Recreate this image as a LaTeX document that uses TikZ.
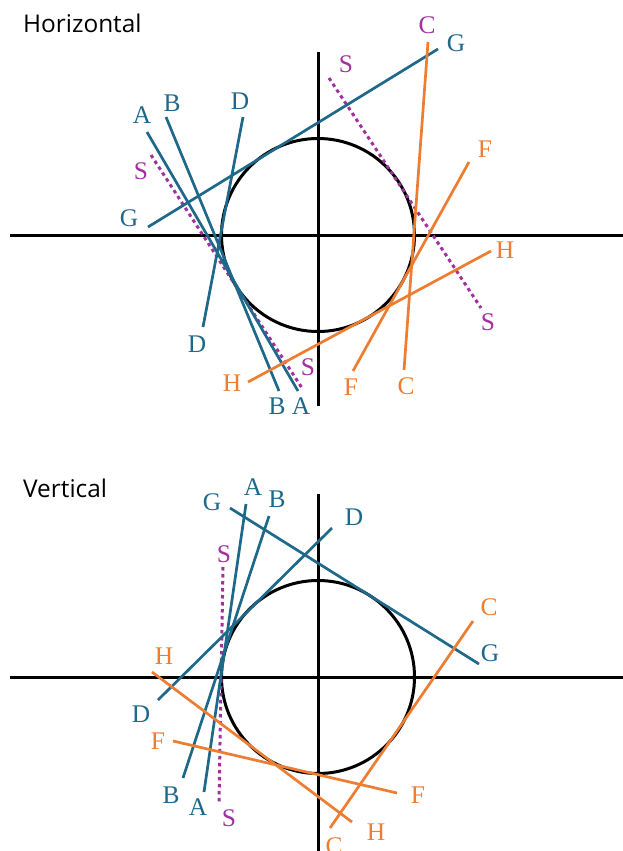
\documentclass[tikz,border=0pt]{standalone}
\usepackage{fontspec}
\setmainfont{Liberation Serif}
\newfontfamily\titlefont{Open Sans}
\definecolor{lblue}{RGB}{30,104,138}
\definecolor{lorange}{RGB}{237,125,49}
\definecolor{lpurple}{RGB}{160,50,160}
\tikzset{
  axis/.style={line width=3bp, black},
  circ/.style={line width=3bp, black},
  bl/.style={line width=2.7bp, lblue},
  ol/.style={line width=2.7bp, lorange},
  sl/.style={line width=3bp, lpurple, dash pattern=on 3.5bp off 3.5bp},
  lab/.style={inner sep=0pt, font=\fontsize{25.5}{25.5}\selectfont},
  ttl/.style={inner sep=0pt, anchor=base west, font=\titlefont\fontsize{24.5}{24.5}\selectfont},
}
\begin{document}
\begin{tikzpicture}[x=1bp,y=-1bp]
\useasboundingbox (0,0) rectangle (623,851);
% ================= TOP: Horizontal =================
\node[ttl] (t1) at (23,32) {Horizontal};
\coordinate (hL) at (10,235); \coordinate (hR) at (623,235);
\coordinate (vT) at (318,52); \coordinate (vB) at (318,406);
\coordinate (c1) at (318,235);
\draw[axis] (hL) -- (hR);
\draw[axis] (vT) -- (vB);
\draw[circ] (c1) circle[radius=96.5];
% line endpoints
\coordinate (A1) at (147,132); \coordinate (A2) at (298,391);
\coordinate (B1) at (166,117); \coordinate (B2) at (279,391);
\coordinate (D1) at (243,117); \coordinate (D2) at (203,327);
\coordinate (G1) at (148,227); \coordinate (G2) at (438,49);
\coordinate (S1) at (151,155); \coordinate (S2) at (302,388);
\coordinate (S3) at (329,78);  \coordinate (S4) at (481,308);
\coordinate (C1) at (428,42);  \coordinate (C2) at (404,370);
\coordinate (F1) at (469,162); \coordinate (F2) at (353,371);
\coordinate (H1) at (248,382); \coordinate (H2) at (491,251);
\draw[sl] (S1) -- (S2);
\draw[sl] (S3) -- (S4);
\draw[bl] (A1) -- (A2);
\draw[bl] (B1) -- (B2);
\draw[bl] (D1) -- (D2);
\draw[bl] (G1) -- (G2);
\draw[ol] (C1) -- (C2);
\draw[ol] (F1) -- (F2);
\draw[ol] (H1) -- (H2);
% labels
\node[lab, text=lblue] (lA1) at (142,115) {A};
\node[lab, text=lblue] (lA2) at (301,406) {A};
\node[lab, text=lblue] (lB1) at (172,103) {B};
\node[lab, text=lblue] (lB2) at (277,406) {B};
\node[lab, text=lblue] (lD1) at (240,101) {D};
\node[lab, text=lblue] (lD2) at (197,344) {D};
\node[lab, text=lblue] (lG1) at (129,218) {G};
\node[lab, text=lblue] (lG2) at (456,43) {G};
\node[lab, text=lpurple] (lS1) at (141,171) {S};
\node[lab, text=lpurple] (lS2) at (308,367) {S};
\node[lab, text=lpurple] (lS3) at (346,64) {S};
\node[lab, text=lpurple] (lS4) at (488,322) {S};
\node[lab, text=lpurple] (lC1) at (427,25) {C};
\node[lab, text=lorange] (lC2) at (406,386) {C};
\node[lab, text=lorange] (lF1) at (485,149) {F};
\node[lab, text=lorange] (lF2) at (351,387) {F};
\node[lab, text=lorange] (lH1) at (232,383) {H};
\node[lab, text=lorange] (lH2) at (505,250) {H};
% ================= BOTTOM: Vertical =================
\node[ttl] (t2) at (23,497) {Vertical};
\coordinate (hL2) at (10,677); \coordinate (hR2) at (623,677);
\coordinate (vT2) at (318,494); \coordinate (vB2) at (318,851);
\coordinate (c2) at (318,677);
\draw[axis] (hL2) -- (hR2);
\draw[axis] (vT2) -- (vB2);
\draw[circ] (c2) circle[radius=96.5];
\coordinate (a1) at (246,504); \coordinate (a2) at (204,792);
\coordinate (b1) at (269,516); \coordinate (b2) at (183,778);
\coordinate (d1) at (332,528); \coordinate (d2) at (158,700);
\coordinate (g1) at (230,508); \coordinate (g2) at (479,664);
\coordinate (s1) at (223,567); \coordinate (s2) at (219,802);
\coordinate (cc1) at (473,621); \coordinate (cc2) at (330,828);
\coordinate (f1) at (173,741); \coordinate (f2) at (397,793);
\coordinate (h1) at (152,672); \coordinate (h2) at (352,822);
\draw[sl] (s1) -- (s2);
\draw[bl] (a1) -- (a2);
\draw[bl] (b1) -- (b2);
\draw[bl] (d1) -- (d2);
\draw[bl] (g1) -- (g2);
\draw[ol] (cc1) -- (cc2);
\draw[ol] (f1) -- (f2);
\draw[ol] (h1) -- (h2);
\node[lab, text=lblue] (la1) at (253,487) {A};
\node[lab, text=lblue] (la2) at (198,807) {A};
\node[lab, text=lblue] (lb1) at (277,499) {B};
\node[lab, text=lblue] (lb2) at (171,795) {B};
\node[lab, text=lblue] (ld1) at (354,517) {D};
\node[lab, text=lblue] (ld2) at (141,714) {D};
\node[lab, text=lblue] (lg1) at (212,502) {G};
\node[lab, text=lblue] (lg2) at (490,653) {G};
\node[lab, text=lpurple] (ls1) at (224,554) {S};
\node[lab, text=lpurple] (ls2) at (229,818) {S};
\node[lab, text=lorange] (lc1) at (489,607) {C};
\node[lab, text=lorange] (lc2) at (334,846) {C};
\node[lab, text=lorange] (lf1) at (158,741) {F};
\node[lab, text=lorange] (lf2) at (418,795) {F};
\node[lab, text=lorange] (lh1) at (164,656) {H};
\node[lab, text=lorange] (lh2) at (376,832) {H};
\end{tikzpicture}
\end{document}
